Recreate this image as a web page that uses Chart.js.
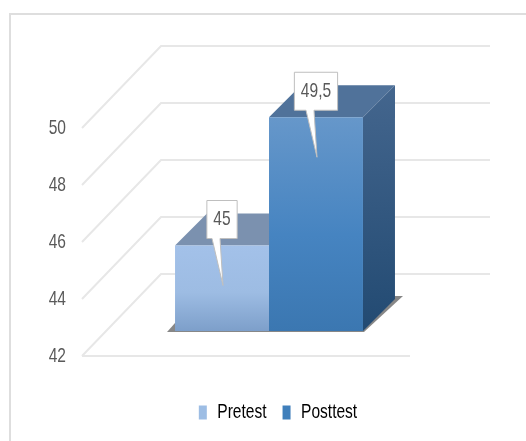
<!DOCTYPE html>
<html>
<head>
<meta charset="utf-8">
<script src="https://cdn.jsdelivr.net/npm/chart.js@4/dist/chart.umd.min.js"></script>
<style>
  html, body { margin: 0; padding: 0; background: #fff; }
  #frame { position: absolute; left: 9px; top: 13px; width: 517px; height: 428px; border-left: 2px solid #dedede; border-top: 2px solid #dedede; box-sizing: border-box; }
  #wrap { position: absolute; left: 0; top: 0; width: 526px; height: 441px; filter: blur(0.5px); }
</style>
</head>
<body>
<div id="frame"></div>
<div id="wrap"><canvas id="c" width="526" height="441"></canvas></div>
<script>
var categories = [''];
var pretest = [45];
var posttest = [49.5];
var seriesNames = ['Pretest', 'Posttest'];
var yTicks = [42, 44, 46, 48, 50];

var FONT = '"Liberation Sans", sans-serif';
var FONT_SIZE = 21;
var TEXT = '#595959';
var NARROW = 0.74;

// the "3d" look: wall is pushed back, bars sit a bit inside the floor
var WALL_DX = 79, WALL_DY = 82;
var BAR_DX = 23, BAR_DY = 25;
var DEPTH = 32;

var FACES = [
  { front: ['#a3c1e9', '#9dbce3', '#7d9fca'], top: '#7b91af', side: ['#40638a', '#234b73'], key: '#9dbde4' },
  { front: ['#6697ca', '#4684c1', '#3b77b1'], top: '#50729a', side: ['#44668e', '#224a72'], key: '#3f7fbb' }
];

// no narrow font installed, so squeeze all canvas text horizontally
var canvas = document.getElementById('c');
var rawCtx = canvas.getContext('2d');
var nativeFillText = rawCtx.fillText;
var nativeMeasure = rawCtx.measureText;
rawCtx.fillText = function(text, x, y) {
  this.save();
  this.translate(x, y);
  this.scale(NARROW, 1);
  nativeFillText.call(this, text, 0, 0);
  this.restore();
};
rawCtx.measureText = function(text) {
  return { width: nativeMeasure.call(this, text).width * NARROW };
};

function frontFill(i) {
  return function(ctx) {
    var chart = ctx.chart;
    if (!chart.chartArea || ctx.parsed === undefined) return FACES[i].key;
    var y = chart.scales.y;
    var g = chart.ctx.createLinearGradient(0, y.getPixelForValue(ctx.parsed.y), 0, y.getPixelForValue(y.min));
    g.addColorStop(0, FACES[i].front[0]);
    g.addColorStop(0.55, FACES[i].front[1]);
    g.addColorStop(1, FACES[i].front[2]);
    return g;
  };
}

function poly(ctx, pts, fill) {
  ctx.beginPath();
  ctx.moveTo(pts[0][0], pts[0][1]);
  for (var i = 1; i < pts.length; i++) ctx.lineTo(pts[i][0], pts[i][1]);
  ctx.closePath();
  ctx.fillStyle = fill;
  ctx.fill();
}

var wallPlugin = {
  id: 'wall',
  afterLayout: function(chart) {
    // legend sits right of the plot centre in the original
    chart.legend.left += 73;
    chart.legend.right += 73;
  },
  beforeDatasetsDraw: function(chart) {
    var ctx = chart.ctx, y = chart.scales.y, a = chart.chartArea;
    ctx.save();
    ctx.strokeStyle = '#e7e7e7';
    ctx.lineWidth = 2;
    y.ticks.forEach(function(t) {
      var py = y.getPixelForValue(t.value);
      ctx.beginPath();
      ctx.moveTo(a.left, py);
      ctx.lineTo(a.left + WALL_DX, py - WALL_DY);
      ctx.lineTo(a.right + WALL_DX + 1, py - WALL_DY);
      ctx.stroke();
      if (t.value === y.min) {
        ctx.beginPath();
        ctx.moveTo(a.left, py);
        ctx.lineTo(a.right, py);
        ctx.stroke();
      }
    });
    // floor shadow
    var first = chart.getDatasetMeta(0).data[0], last = chart.getDatasetMeta(1).data[0];
    var l = first.x - first.width / 2 + BAR_DX, r = last.x + last.width / 2 + BAR_DX, b = first.base - BAR_DY;
    poly(ctx, [[l - 8, b + 1], [l, b - 8], [r + DEPTH, b - DEPTH - 3], [r + DEPTH + 8, b - DEPTH - 3], [r + 1, b + 1]], 'rgba(95,95,95,0.75)');
    ctx.restore();
  },
  beforeDatasetDraw: function(chart, args) {
    var ctx = chart.ctx, el = args.meta.data[0], f = FACES[args.index];
    var l = el.x - el.width / 2 + BAR_DX, r = el.x + el.width / 2 + BAR_DX;
    var t = el.y - BAR_DY, b = el.base - BAR_DY;
    ctx.save();
    if (args.index === 0) {
      // drawn after Posttest, so stop the top face at its front edge
      poly(ctx, [[l, t], [l + DEPTH, t - DEPTH], [r, t - DEPTH], [r, t]], f.top);
    } else {
      poly(ctx, [[l, t], [l + DEPTH, t - DEPTH], [r + DEPTH, t - DEPTH], [r, t]], f.top);
      var g = ctx.createLinearGradient(0, t - DEPTH, 0, b);
      g.addColorStop(0, f.side[0]);
      g.addColorStop(1, f.side[1]);
      poly(ctx, [[r, t], [r + DEPTH, t - DEPTH], [r + DEPTH, b - DEPTH], [r, b]], g);
    }
    ctx.translate(BAR_DX, -BAR_DY);
  },
  afterDatasetDraw: function(chart) {
    chart.ctx.restore();
  },
  afterDatasetsDraw: function(chart) {
    var ctx = chart.ctx;
    ctx.save();
    ctx.font = FONT_SIZE + 'px ' + FONT;
    ctx.textAlign = 'center';
    ctx.textBaseline = 'middle';
    chart.data.datasets.forEach(function(ds, i) {
      var el = chart.getDatasetMeta(i).data[0];
      var label = String(ds.data[0]).replace('.', ',');
      var cx = el.x + BAR_DX, top = el.y - BAR_DY;
      var w = ctx.measureText(label).width + 13;
      var x0 = cx - w / 2, x1 = cx + w / 2, y0 = top - 45, y1 = top - 7;
      // callout box with a long pointer into the bar
      ctx.beginPath();
      ctx.moveTo(x0, y0);
      ctx.lineTo(x1, y0);
      ctx.lineTo(x1, y1);
      ctx.lineTo(cx - 2, y1);
      ctx.lineTo(cx + 1, top + 40);
      ctx.lineTo(cx - 10, y1);
      ctx.lineTo(x0, y1);
      ctx.closePath();
      ctx.fillStyle = '#ffffff';
      ctx.fill();
      ctx.strokeStyle = '#bfbfbf';
      ctx.lineWidth = 1;
      ctx.stroke();
      ctx.fillStyle = TEXT;
      ctx.fillText(label, cx, (y0 + y1) / 2);
    });
    ctx.restore();
  }
};

new Chart(canvas, {
  type: 'bar',
  data: {
    labels: categories,
    datasets: [
      { label: seriesNames[0], data: pretest, base: yTicks[0], backgroundColor: frontFill(0), clip: false },
      { label: seriesNames[1], data: posttest, base: yTicks[0], backgroundColor: frontFill(1), clip: false }
    ]
  },
  options: {
    responsive: false,
    animation: false,
    barPercentage: 1,
    categoryPercentage: 0.573,
    layout: { padding: { left: 0, right: 116, top: 128, bottom: 8 } },
    plugins: {
      tooltip: { enabled: false },
      legend: {
        position: 'bottom',
        labels: {
          boxWidth: 8,
          boxHeight: 14,
          padding: 16,
          color: TEXT,
          font: { family: FONT, size: FONT_SIZE },
          generateLabels: function(chart) {
            return chart.data.datasets.map(function(ds, i) {
              return { text: ds.label, fillStyle: FACES[i].key, strokeStyle: FACES[i].key, lineWidth: 0, datasetIndex: i };
            });
          }
        }
      }
    },
    scales: {
      x: {
        grid: { display: false },
        border: { display: false },
        ticks: { display: false },
        afterFit: function(s) { s.height = 30; }
      },
      y: {
        min: yTicks[0],
        max: yTicks[yTicks.length - 1],
        afterBuildTicks: function(s) { s.ticks = yTicks.map(function(v) { return { value: v }; }); },
        grid: { display: false, drawTicks: false },
        border: { display: false },
        ticks: { color: TEXT, padding: 16, font: { family: FONT, size: FONT_SIZE } },
        afterFit: function(s) { s.width = 82; }
      }
    }
  },
  plugins: [wallPlugin]
});
</script>
</body>
</html>
